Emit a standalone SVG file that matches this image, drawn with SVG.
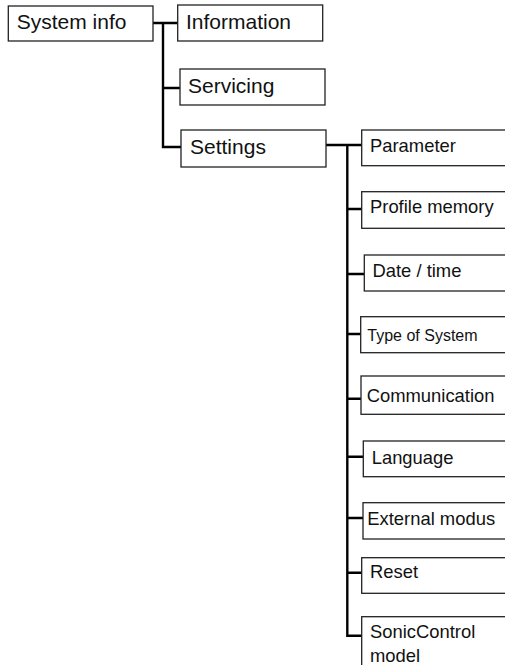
<svg xmlns="http://www.w3.org/2000/svg" width="505" height="665" viewBox="0 0 505 665">
<style>
.box{fill:#fff;stroke:#222;stroke-width:1.3}
.big{font-family:"Liberation Sans",Arial,sans-serif;font-size:21px;fill:#111}
.sm{font-family:"Liberation Sans",Arial,sans-serif;font-size:18.4px;fill:#111}
.xs{font-family:"Liberation Sans",Arial,sans-serif;font-size:16px;fill:#111}
.con{fill:none;stroke:#000;stroke-width:2.4}
</style>
<rect width="505" height="665" fill="#fff"/>
<g id="connectors">
<path class="con" d="M153,23 H178 M163,23 V147 H181 M163,88 H180"/>
<path class="con" d="M326,145 H362 M347.3,145 V635.7 H362 M347.3,209 H362 M347.3,274 H364 M347.3,334 H361 M347.3,398.7 H361 M347.3,456.7 H363 M347.3,518 H363 M347.3,572.7 H362"/>
</g>
<g id="system-info"><rect class="box" x="8.3" y="6" width="144.7" height="35"/><text class="big" x="16.7" y="29.3">System info</text></g>
<g id="information"><rect class="box" x="177.7" y="5" width="145" height="36"/><text class="big" x="186" y="29.3">Information</text></g>
<g id="servicing"><rect class="box" x="180" y="69" width="145" height="36"/><text class="big" x="188" y="93.3">Servicing</text></g>
<g id="settings"><rect class="box" x="181" y="130" width="145" height="37"/><text class="big" x="190" y="154">Settings</text></g>
<g id="parameter"><rect class="box" x="361.7" y="130" width="150" height="35.7"/><text class="sm" x="370" y="151.7">Parameter</text></g>
<g id="profile-memory"><rect class="box" x="361.7" y="191.7" width="150" height="36.6"/><text class="sm" x="370" y="213.3">Profile memory</text></g>
<g id="date-time"><rect class="box" x="364.3" y="255" width="150" height="36"/><text class="sm" x="372.5" y="276.7">Date / time</text></g>
<g id="type-of-system"><rect class="box" x="360.7" y="316.7" width="150" height="36"/><text class="xs" x="367.3" y="340.7">Type of System</text></g>
<g id="communication"><rect class="box" x="361" y="376" width="150" height="38.3"/><text class="sm" x="366.7" y="401.7">Communication</text></g>
<g id="language"><rect class="box" x="363.3" y="441" width="150" height="35.7"/><text class="sm" x="371.7" y="464">Language</text></g>
<g id="external-modus"><rect class="box" x="363" y="502.7" width="150" height="36.3"/><text class="sm" x="367.3" y="525">External modus</text></g>
<g id="reset"><rect class="box" x="361.7" y="557.7" width="150" height="35.6"/><text class="sm" x="370" y="578.3">Reset</text></g>
<g id="soniccontrol-model"><rect class="box" x="361.7" y="616.7" width="150" height="60"/><text class="sm" x="370" y="638.3">SonicControl</text><text class="sm" x="370" y="662">model</text></g>
</svg>
